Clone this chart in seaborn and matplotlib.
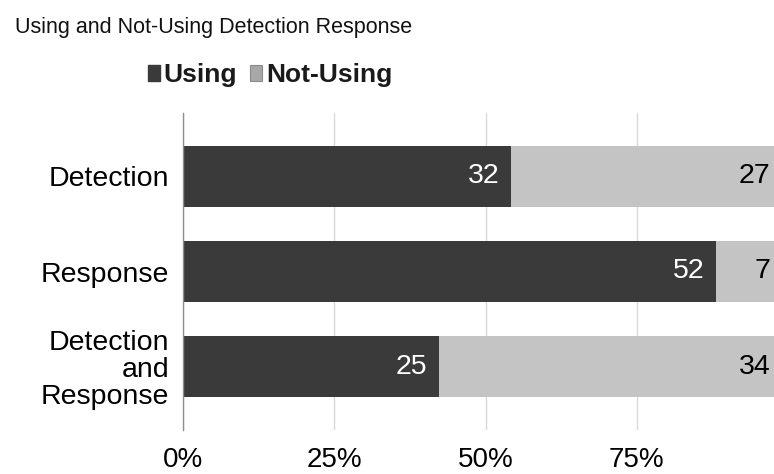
import matplotlib
matplotlib.use("Agg")
import matplotlib.pyplot as plt
from matplotlib import font_manager as fm
from matplotlib.patches import Patch
import seaborn as sns
import pandas as pd

# ---- data ----
categories = ["Detection", "Response", "Detection\nand\nResponse"]
using = [32, 52, 25]
not_using = [27, 7, 34]
series_names = ["Using", "Not-Using"]
tick_vals = [0, 0.25, 0.5, 0.75]
tick_labels = ["0%", "25%", "50%", "75%"]

DARK = "#3a3a3a"
LIGHT = "#c4c4c4"
LEG_LIGHT = "#a8a8a8"

sns.set_theme(style="white")
names = {f.name for f in fm.fontManager.ttflist}
base = "Liberation Sans" if "Liberation Sans" in names else "DejaVu Sans"
has_narrow = "Liberation Sans Narrow" in names
narrow = "Liberation Sans Narrow" if has_narrow else base
plt.rcParams["font.family"] = [base, "DejaVu Sans"]
plt.rcParams["text.color"] = "black"
plt.rcParams["xtick.color"] = "black"
plt.rcParams["ytick.color"] = "black"

totals = [u + n for u, n in zip(using, not_using)]
df = pd.DataFrame({
    "category": categories,
    "using_share": [u / t for u, t in zip(using, totals)],
    "total_share": [t / t for t in totals],
})

fig = plt.figure(figsize=(7.74, 4.74), dpi=100)
ax = fig.add_axes([183 / 774, 44 / 474, 605 / 774, 317 / 474])

sns.barplot(data=df, y="category", x="total_share", orient="h", color=LIGHT,
            width=0.64, saturation=1, ax=ax, zorder=2, linewidth=0)
sns.barplot(data=df, y="category", x="using_share", orient="h", color=DARK,
            width=0.64, saturation=1, ax=ax, zorder=3, linewidth=0)

ax.set_xlim(0, 1)
ax.set_ylim(2.668, -0.668)
ax.set_xlabel("")
ax.set_ylabel("")

ax.set_xticks(tick_vals)
ax.set_xticklabels(tick_labels, fontsize=20, color="black")
ax.tick_params(axis="x", length=0, pad=12, labelcolor="black")
ax.tick_params(axis="y", length=0, pad=10, labelcolor="black")
for lbl in ax.get_yticklabels():
    lbl.set_fontsize(20.5)
    lbl.set_linespacing(1.05)
    lbl.set_horizontalalignment("right")
    lbl.set_multialignment("right")

ax.xaxis.grid(True, color="#d9d9d9", linewidth=1, zorder=0)
ax.set_xticks([1.0], minor=True)
ax.xaxis.grid(True, which="minor", color="#d9d9d9", linewidth=1)
ax.tick_params(axis="x", which="minor", length=0)
for s in ["top", "right", "bottom"]:
    ax.spines[s].set_visible(False)
ax.spines["left"].set_color("#8f8f8f")
ax.spines["left"].set_linewidth(1)
ax.spines["left"].set_zorder(4)

# value labels
for i, (u, n, t) in enumerate(zip(using, not_using, totals)):
    ax.annotate(str(u), xy=(u / t, i), xytext=(-8.6, 0), textcoords="offset points",
                ha="right", va="center", color="white", fontsize=20.5, zorder=5)
    ax.annotate(str(n), xy=(1.0, i), xytext=(-12.5, 0), textcoords="offset points",
                ha="right", va="center", color="black", fontsize=20.5, zorder=5,
                annotation_clip=False)

# title
title_size = 17 if has_narrow else 15.5
fig.text(15 / 774, 1 - 28 / 474, "Using and Not-Using Detection Response",
         fontsize=title_size, family=[narrow, "DejaVu Sans"], ha="left", va="center",
         color="#111111")

# legend
handles = [Patch(facecolor=DARK, edgecolor=DARK),
           Patch(facecolor=LEG_LIGHT, edgecolor="#8a8a8a", linewidth=0.8)]
leg_size = 21 if has_narrow else 19
leg = fig.legend(handles, series_names, loc="center", bbox_to_anchor=(270 / 774, 1 - 75 / 474),
                 ncol=2, frameon=False, handlelength=0.45, handleheight=0.55,
                 handletextpad=0.15, columnspacing=0.5,
                 prop={"family": [narrow, "DejaVu Sans"], "weight": "bold", "size": leg_size})
for t in leg.get_texts():
    t.set_color("#1a1a1a")

fig.savefig("out.png", dpi=100)
